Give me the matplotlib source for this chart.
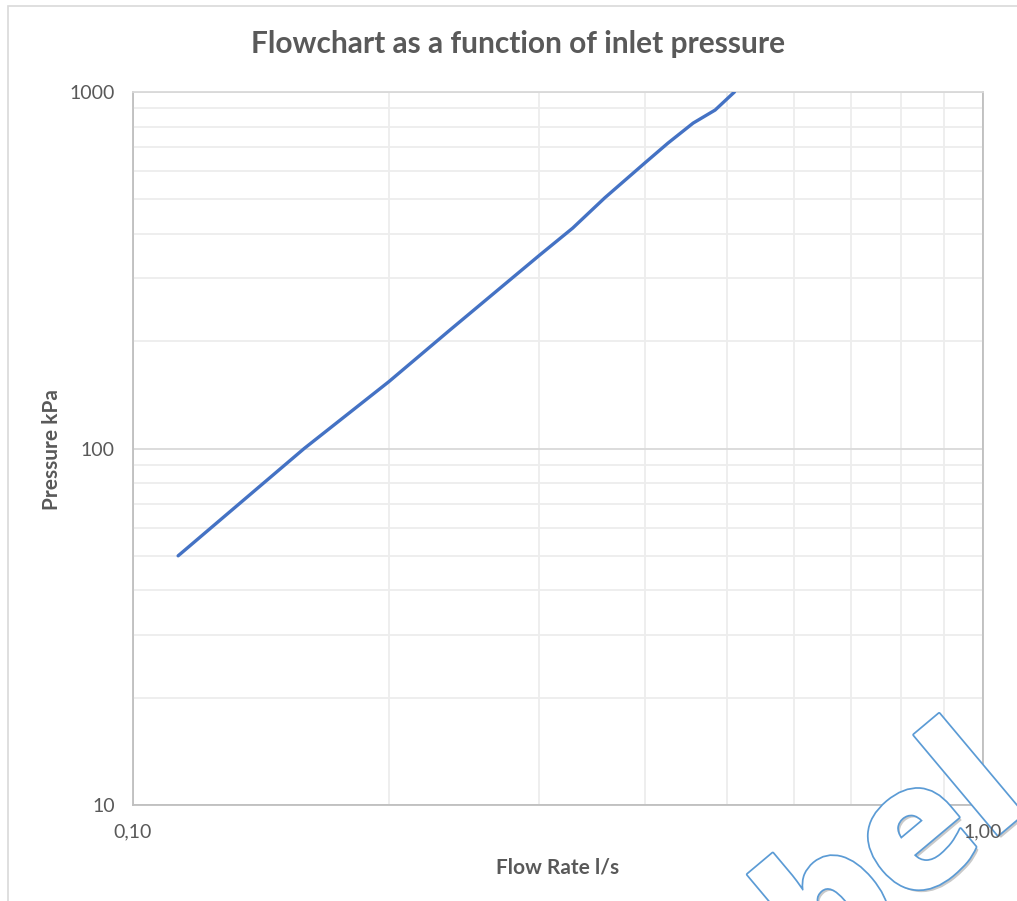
import matplotlib
matplotlib.use("Agg")
import matplotlib.pyplot as plt
import matplotlib.patheffects as pe
from matplotlib.ticker import FixedLocator, NullLocator, LogLocator
from matplotlib.patches import Rectangle

# data
flow_rate = [0.113, 0.159, 0.200, 0.236, 0.301, 0.329, 0.359, 0.400, 0.426, 0.456, 0.484, 0.510]
pressure = [50, 100, 154, 215, 349, 415, 505, 632, 719, 818, 890, 1000]

x_ticks = [0.1, 1.0]
x_tick_labels = ["0,10", "1,00"]
y_ticks = [10, 100, 1000]
y_tick_labels = ["10", "100", "1000"]

title = "Flowchart as a function of inlet pressure"
x_label = "Flow Rate l/s"
y_label = "Pressure kPa"

W, H = 1017, 901
fig = plt.figure(figsize=(W / 100, H / 100), dpi=100)
plt.rcParams['font.family'] = ['Lato', 'DejaVu Sans']

# outer chart frame
fig.patches.append(Rectangle((8 / W, -0.1), 1.2, 1 - 6 / H + 0.1, transform=fig.transFigure,
                             fill=False, edgecolor="#D9D9D9", linewidth=1.2))

rect = [133 / W, 1 - 805 / H, (983 - 133) / W, (805 - 92) / H]

# background axes: grid and frame (sits under the watermark)
bg = fig.add_axes(rect, zorder=0)
bg.set_xscale("log")
bg.set_yscale("log")
bg.set_xlim(0.1, 1.0)
bg.set_ylim(10, 1000)
bg.xaxis.set_major_locator(FixedLocator(x_ticks))
bg.yaxis.set_major_locator(FixedLocator(y_ticks))
bg.xaxis.set_minor_locator(LogLocator(base=10, subs=range(2, 10)))
bg.yaxis.set_minor_locator(LogLocator(base=10, subs=range(2, 10)))
bg.tick_params(which="both", length=0, labelbottom=False, labelleft=False)
bg.grid(True, which="major", color="#D9D9D9", linewidth=1.3)
bg.grid(True, which="minor", color="#EDEDED", linewidth=1.3)
for side in ["left", "bottom", "right"]:
    bg.spines[side].set_color("#BFBFBF")
    bg.spines[side].set_linewidth(1.3)
bg.spines["top"].set_color("#D9D9D9")
bg.spines["top"].set_linewidth(1.3)

# front axes: data line and tick labels
ax = fig.add_axes(rect, zorder=20)
ax.patch.set_visible(False)
for side in ax.spines:
    ax.spines[side].set_visible(False)
ax.set_xscale("log")
ax.set_yscale("log")
ax.set_xlim(0.1, 1.0)
ax.set_ylim(10, 1000)

ax.plot(flow_rate, pressure, color="#4472C4", linewidth=2.4, solid_capstyle="round", zorder=3)

ax.xaxis.set_major_locator(FixedLocator(x_ticks))
ax.yaxis.set_major_locator(FixedLocator(y_ticks))
ax.set_xticklabels(x_tick_labels)
ax.set_yticklabels(y_tick_labels)
ax.xaxis.set_minor_locator(NullLocator())
ax.yaxis.set_minor_locator(NullLocator())
ax.tick_params(which="both", length=0, labelsize=14, colors="#595959")
ax.tick_params(axis="x", pad=13)
ax.tick_params(axis="y", pad=13)

fig.text(518 / W, 1 - 53 / H, title, ha="center", va="baseline",
         fontsize=21.5, fontweight="bold", color="#595959")
fig.text(558 / W, 1 - 873 / H, x_label, ha="center", va="baseline",
         fontsize=15, fontweight="bold", color="#595959")
fig.text(52 / W, 1 - 450 / H, y_label, ha="center", va="center", rotation=90,
         fontsize=15, fontweight="bold", color="#595959")

# watermark in the lower right corner
fig.text(823 / W, 1 - 982 / H, "bel", rotation=40, rotation_mode="anchor",
         ha="left", va="baseline", fontsize=124, fontweight="heavy",
         family=["Open Sans", "DejaVu Sans"], color="white", zorder=10,
         path_effects=[pe.SimplePatchShadow(offset=(2, -2), alpha=0.3),
                       pe.withStroke(linewidth=2.5, foreground="#5B9BD5")])

fig.savefig("out.png", dpi=100)
